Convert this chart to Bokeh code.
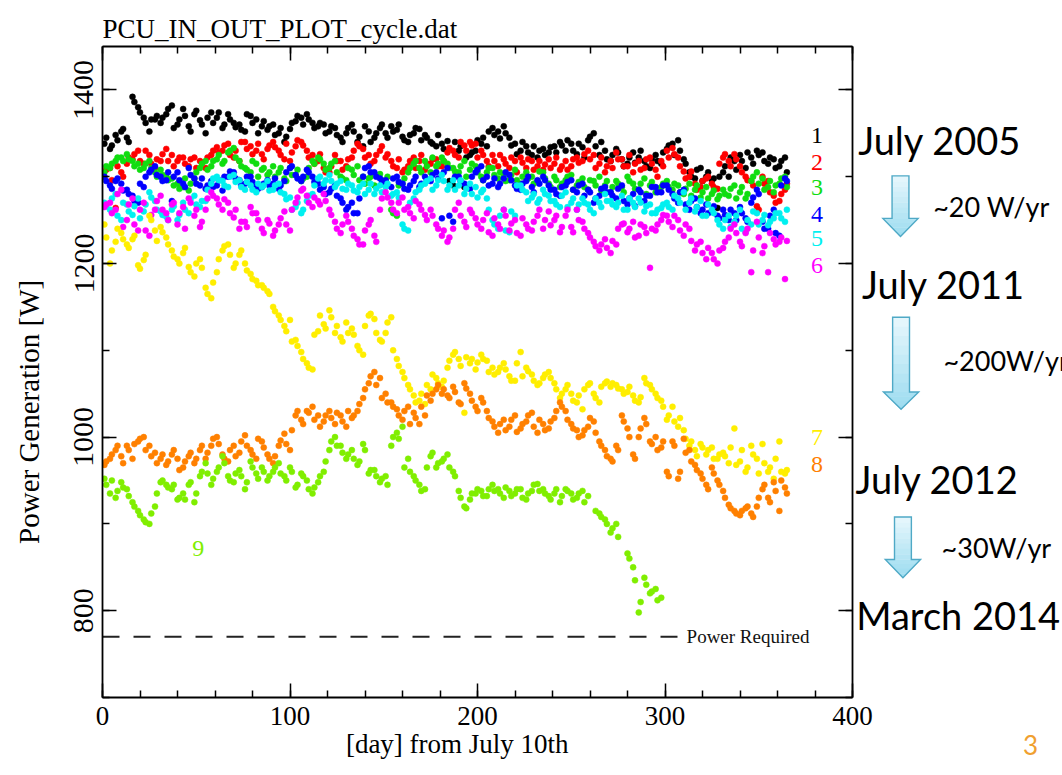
from bokeh.plotting import figure
from bokeh.models import Range1d, LinearAxis, SingleIntervalTicker, FixedTicker, Label, ColumnDataSource
from bokeh.layouts import row
from bokeh.core.properties import value
from bokeh.embed import file_html
from bokeh.resources import INLINE

# ---------------- data ----------------
day = [1, 4, 7, 10, 13, 16, 19, 22, 25, 28,
       31, 34, 37, 40, 43, 46, 49, 52, 55, 58,
       61, 64, 67, 70, 73, 76, 79, 82, 85, 88,
       91, 94, 97, 100, 103, 106, 109, 112, 115, 118,
       121, 124, 127, 130, 133, 136, 139, 142, 145, 148,
       151, 154, 157, 160, 163, 166, 169, 172, 175, 178,
       181, 184, 187, 190, 193, 196, 199, 202, 205, 208,
       211, 214, 217, 220, 223, 226, 229, 232, 235, 238,
       241, 244, 247, 250, 253, 256, 259, 262, 265, 268,
       271, 274, 277, 280, 283, 286, 289, 292, 295, 298,
       301, 304, 307, 310, 313, 316, 319, 322, 325, 328,
       331, 334, 337, 340, 343, 346, 349, 352, 355, 358,
       361, 364]

day_b = [2, 5, 8, 11, 14, 17, 20, 23, 26, 29,
         32, 35, 38, 41, 44, 47, 50, 53, 56, 59,
         62, 65, 68, 71, 74, 77, 80, 83, 86, 89,
         92, 95, 98, 101, 104, 107, 110, 113, 116, 119,
         122, 125, 128, 131, 134, 137, 140, 143, 146, 149,
         152, 155, 158, 161, 164, 167, 170, 173, 176, 179,
         182, 185, 188, 191, 194, 197, 200, 203, 206, 209,
         212, 215, 218, 221, 224, 227, 230, 233, 236, 239,
         242, 245, 248, 251, 254, 257, 260, 263, 266, 269,
         272, 275, 278, 281, 284, 287, 290, 293, 296, 299,
         302, 305, 308, 311, 314, 317, 320, 323, 326, 329,
         332, 335, 338, 341, 344, 347, 350, 353, 356, 359,
         362, 365]

s1 = [1338, 1332, 1348, 1352, 1345, 1392, 1380, 1368, 1352, 1366,
      1362, 1372, 1382, 1360, 1378, 1358, 1372, 1365, 1350, 1374,
      1368, 1356, 1372, 1362, 1360, 1352, 1370, 1366, 1358, 1354,
      1360, 1350, 1340, 1355, 1364, 1368, 1372, 1362, 1358, 1360,
      1352, 1356, 1345, 1350, 1360, 1340, 1335, 1352, 1345, 1356,
      1350, 1358, 1354, 1346, 1340, 1350, 1355, 1348, 1340, 1335,
      1338, 1341, 1290, 1330, 1288, 1325, 1330, 1338, 1335, 1356,
      1352, 1358, 1345, 1338, 1330, 1335, 1325, 1322, 1332, 1328,
      1335, 1340, 1330, 1338, 1326, 1334, 1342, 1350, 1325, 1330,
      1318, 1332, 1320, 1315, 1328, 1322, 1318, 1310, 1325, 1315,
      1332, 1338, 1342, 1320, 1305, 1298, 1310, 1300, 1296, 1264,
      1305, 1300, 1318, 1325, 1310, 1322, 1330, 1328, 1315, 1320,
      1312, 1322]
s1_b = [1345, 1336, 1342, 1355, 1340, 1386, 1374, 1362, 1366, 1370,
        1368, 1378, 1356, 1366, 1370, 1352, 1376, 1360, 1368, 1362,
        1374, 1360, 1366, 1357, 1354, 1372, 1362, 1350, 1364, 1358,
        1348, 1356, 1346, 1362, 1370, 1360, 1366, 1356, 1362, 1350,
        1358, 1348, 1340, 1356, 1352, 1346, 1358, 1340, 1350, 1360,
        1345, 1352, 1360, 1342, 1348, 1356, 1342, 1345, 1338, 1348,
        1332, 1295, 1340, 1335, 1322, 1328, 1342, 1345, 1352, 1348,
        1344, 1350, 1336, 1326, 1340, 1328, 1335, 1330, 1325, 1334,
        1328, 1336, 1342, 1330, 1338, 1322, 1346, 1335, 1340, 1320,
        1325, 1328, 1312, 1322, 1316, 1330, 1312, 1320, 1318, 1328,
        1336, 1325, 1330, 1315, 1300, 1308, 1295, 1305, 1298, 1300,
        1312, 1322, 1308, 1318, 1328, 1315, 1325, 1318, 1322, 1310,
        1318, 1305]

s2 = [1300, 1310, 1264, 1305, 1315, 1320, 1330, 1315, 1325, 1310,
      1318, 1332, 1325, 1318, 1322, 1312, 1322, 1318, 1310, 1325,
      1334, 1330, 1338, 1322, 1318, 1340, 1335, 1330, 1326, 1332,
      1340, 1330, 1320, 1318, 1335, 1340, 1330, 1325, 1318, 1310,
      1305, 1325, 1318, 1312, 1322, 1338, 1332, 1325, 1318, 1330,
      1322, 1318, 1310, 1305, 1312, 1322, 1318, 1308, 1315, 1320,
      1312, 1328, 1330, 1322, 1336, 1340, 1338, 1330, 1318, 1325,
      1312, 1320, 1310, 1318, 1322, 1310, 1318, 1312, 1308, 1320,
      1315, 1308, 1318, 1312, 1322, 1318, 1330, 1325, 1315, 1305,
      1318, 1328, 1320, 1312, 1305, 1318, 1310, 1322, 1308, 1318,
      1330, 1333, 1322, 1306, 1300, 1292, 1288, 1298, 1292, 1286,
      1322, 1318, 1326, 1312, 1300, 1295, 1266, 1300, 1295, 1278,
      1272, 1285]
s2_b = [1308, 1296, 1312, 1300, 1322, 1326, 1318, 1330, 1315, 1320,
        1326, 1318, 1312, 1322, 1315, 1320, 1310, 1316, 1322, 1330,
        1328, 1336, 1325, 1330, 1340, 1332, 1326, 1338, 1320, 1336,
        1334, 1325, 1338, 1328, 1342, 1336, 1322, 1315, 1326, 1305,
        1312, 1318, 1308, 1320, 1330, 1335, 1322, 1315, 1325, 1335,
        1326, 1312, 1320, 1308, 1318, 1310, 1325, 1315, 1320, 1312,
        1318, 1333, 1325, 1340, 1330, 1336, 1322, 1325, 1312, 1318,
        1325, 1315, 1322, 1305, 1316, 1320, 1308, 1318, 1314, 1310,
        1322, 1312, 1308, 1320, 1316, 1326, 1320, 1310, 1322, 1312,
        1310, 1320, 1312, 1325, 1315, 1308, 1320, 1315, 1300, 1312,
        1322, 1326, 1312, 1298, 1306, 1285, 1295, 1300, 1288, 1315,
        1326, 1312, 1320, 1305, 1296, 1290, 1262, 1292, 1282, 1270,
        1280, 1292]

s3 = [1305, 1310, 1318, 1322, 1326, 1318, 1315, 1310, 1318, 1305,
      1308, 1300, 1298, 1292, 1288, 1284, 1298, 1310, 1318, 1312,
      1320, 1315, 1328, 1333, 1318, 1310, 1305, 1315, 1308, 1302,
      1312, 1305, 1298, 1310, 1302, 1295, 1300, 1318, 1322, 1315,
      1310, 1318, 1300, 1296, 1308, 1312, 1300, 1298, 1290, 1303,
      1295, 1262, 1255, 1292, 1305, 1315, 1310, 1318, 1305, 1312,
      1322, 1315, 1310, 1305, 1318, 1308, 1312, 1300, 1305, 1310,
      1298, 1302, 1296, 1308, 1292, 1305, 1300, 1295, 1305, 1292,
      1300, 1288, 1296, 1302, 1290, 1298, 1285, 1295, 1300, 1290,
      1282, 1295, 1288, 1300, 1292, 1285, 1298, 1290, 1282, 1288,
      1295, 1285, 1290, 1280, 1292, 1285, 1276, 1288, 1280, 1274,
      1285, 1278, 1290, 1282, 1275, 1295, 1305, 1298, 1288, 1282,
      1292, 1300]
s3_b = [1312, 1315, 1322, 1318, 1320, 1312, 1308, 1315, 1310, 1300,
        1302, 1296, 1290, 1286, 1298, 1292, 1305, 1315, 1308, 1318,
        1325, 1318, 1330, 1322, 1312, 1308, 1318, 1300, 1310, 1305,
        1300, 1310, 1295, 1302, 1308, 1298, 1310, 1315, 1320, 1308,
        1315, 1305, 1298, 1310, 1302, 1296, 1292, 1300, 1288, 1296,
        1300, 1258, 1290, 1298, 1310, 1318, 1305, 1312, 1322, 1315,
        1318, 1310, 1306, 1312, 1300, 1315, 1305, 1296, 1310, 1302,
        1305, 1295, 1302, 1296, 1300, 1298, 1292, 1306, 1298, 1288,
        1296, 1292, 1300, 1285, 1294, 1288, 1296, 1290, 1284, 1295,
        1288, 1292, 1282, 1295, 1286, 1292, 1280, 1294, 1286, 1292,
        1288, 1292, 1282, 1286, 1278, 1290, 1282, 1275, 1284, 1278,
        1280, 1286, 1275, 1288, 1280, 1300, 1292, 1285, 1295, 1290,
        1298, 1288]

s4 = [1300, 1290, 1295, 1292, 1285, 1278, 1270, 1288, 1305, 1312,
      1300, 1296, 1272, 1305, 1292, 1310, 1298, 1290, 1286, 1295,
      1290, 1284, 1300, 1305, 1296, 1292, 1300, 1290, 1288, 1296,
      1292, 1286, 1295, 1310, 1302, 1295, 1308, 1300, 1292, 1288,
      1282, 1290, 1275, 1262, 1270, 1258, 1300, 1312, 1305, 1298,
      1296, 1288, 1300, 1292, 1285, 1295, 1288, 1300, 1295, 1305,
      1252, 1310, 1248, 1300, 1292, 1286, 1305, 1312, 1300, 1292,
      1288, 1298, 1302, 1290, 1285, 1295, 1288, 1296, 1300, 1290,
      1285, 1278, 1290, 1296, 1282, 1292, 1285, 1270, 1278, 1288,
      1282, 1275, 1290, 1268, 1280, 1285, 1272, 1278, 1288, 1282,
      1290, 1280, 1270, 1285, 1262, 1275, 1258, 1268, 1260, 1255,
      1262, 1250, 1258, 1265, 1252, 1270, 1285, 1248, 1240, 1262,
      1232, 1298]
s4_b = [1295, 1286, 1298, 1284, 1280, 1272, 1292, 1300, 1308, 1302,
        1295, 1305, 1300, 1296, 1288, 1302, 1292, 1298, 1290, 1288,
        1296, 1300, 1306, 1298, 1290, 1300, 1294, 1286, 1292, 1290,
        1298, 1290, 1305, 1312, 1298, 1300, 1305, 1294, 1285, 1280,
        1286, 1278, 1270, 1265, 1258, 1275, 1310, 1305, 1300, 1292,
        1290, 1298, 1294, 1286, 1290, 1300, 1292, 1296, 1302, 1298,
        1305, 1255, 1300, 1295, 1288, 1300, 1308, 1296, 1290, 1298,
        1292, 1305, 1296, 1286, 1292, 1300, 1282, 1292, 1296, 1285,
        1280, 1288, 1294, 1285, 1290, 1278, 1282, 1275, 1286, 1282,
        1278, 1286, 1272, 1275, 1266, 1282, 1278, 1288, 1282, 1290,
        1285, 1275, 1282, 1268, 1272, 1265, 1262, 1258, 1266, 1252,
        1256, 1262, 1250, 1258, 1248, 1276, 1280, 1240, 1255, 1235,
        1290, 1295]

s5 = [1270, 1262, 1280, 1250, 1268, 1256, 1275, 1260, 1282, 1272,
      1260, 1254, 1262, 1250, 1270, 1258, 1278, 1265, 1272, 1292,
      1300, 1295, 1288, 1302, 1296, 1285, 1290, 1282, 1288, 1295,
      1285, 1292, 1280, 1276, 1265, 1258, 1272, 1280, 1298, 1292,
      1302, 1288, 1295, 1285, 1290, 1282, 1292, 1285, 1280, 1290,
      1288, 1278, 1282, 1245, 1238, 1275, 1285, 1292, 1298, 1290,
      1302, 1285, 1296, 1290, 1280, 1292, 1288, 1282, 1275, 1250,
      1240, 1262, 1236, 1255, 1290, 1282, 1276, 1270, 1285, 1278,
      1272, 1265, 1282, 1270, 1262, 1275, 1268, 1258, 1270, 1280,
      1272, 1265, 1278, 1262, 1270, 1275, 1260, 1268, 1258, 1264,
      1270, 1262, 1275, 1282, 1270, 1260, 1272, 1255, 1262, 1250,
      1240, 1255, 1248, 1262, 1236, 1245, 1258, 1250, 1244, 1252,
      1258, 1248]
s5_b = [1266, 1275, 1255, 1270, 1260, 1266, 1252, 1268, 1276, 1262,
        1256, 1250, 1266, 1256, 1262, 1274, 1268, 1272, 1285, 1298,
        1296, 1290, 1300, 1294, 1288, 1294, 1285, 1292, 1290, 1284,
        1290, 1282, 1274, 1262, 1270, 1262, 1278, 1290, 1300, 1296,
        1295, 1292, 1286, 1292, 1284, 1288, 1280, 1292, 1286, 1282,
        1292, 1280, 1276, 1240, 1270, 1282, 1290, 1295, 1285, 1296,
        1295, 1290, 1285, 1296, 1286, 1280, 1276, 1285, 1262, 1245,
        1255, 1238, 1260, 1290, 1285, 1272, 1280, 1274, 1280, 1272,
        1268, 1278, 1265, 1275, 1268, 1270, 1262, 1275, 1265, 1272,
        1268, 1270, 1262, 1275, 1265, 1270, 1266, 1258, 1262, 1268,
        1265, 1278, 1270, 1262, 1275, 1265, 1255, 1268, 1258, 1245,
        1250, 1242, 1255, 1240, 1250, 1260, 1245, 1256, 1248, 1258,
        1252, 1262]

s6 = [1265, 1270, 1262, 1285, 1250, 1275, 1238, 1270, 1232, 1262,
      1278, 1258, 1268, 1245, 1265, 1275, 1255, 1242, 1262, 1282,
      1275, 1262, 1270, 1253, 1240, 1248, 1265, 1258, 1240, 1250,
      1232, 1245, 1260, 1238, 1270, 1284, 1278, 1265, 1272, 1280,
      1262, 1248, 1235, 1255, 1240, 1228, 1222, 1245, 1232, 1262,
      1282, 1270, 1258, 1276, 1265, 1252, 1268, 1256, 1262, 1245,
      1232, 1225, 1240, 1270, 1248, 1262, 1252, 1240, 1258, 1232,
      1245, 1262, 1238, 1250, 1232, 1245, 1238, 1255, 1240, 1260,
      1250, 1236, 1255, 1242, 1262, 1248, 1235, 1225, 1215, 1228,
      1212, 1222, 1245, 1236, 1248, 1232, 1242, 1195, 1238, 1250,
      1255, 1242, 1250, 1232, 1240, 1215, 1225, 1205, 1212, 1200,
      1218, 1230, 1245, 1225, 1235, 1190, 1248, 1212, 1190, 1228,
      1225, 1182]
s6_b = [1268, 1258, 1280, 1242, 1268, 1245, 1262, 1238, 1256, 1272,
        1262, 1250, 1270, 1258, 1240, 1270, 1262, 1248, 1275, 1278,
        1268, 1274, 1258, 1262, 1248, 1242, 1258, 1250, 1235, 1246,
        1238, 1252, 1245, 1262, 1276, 1286, 1270, 1276, 1268, 1272,
        1256, 1240, 1245, 1248, 1232, 1222, 1238, 1250, 1225, 1275,
        1276, 1262, 1270, 1262, 1258, 1272, 1262, 1250, 1255, 1240,
        1238, 1230, 1262, 1255, 1242, 1258, 1245, 1250, 1236, 1252,
        1240, 1255, 1246, 1235, 1252, 1240, 1248, 1262, 1250, 1244,
        1255, 1242, 1262, 1236, 1250, 1240, 1230, 1220, 1222, 1218,
        1226, 1240, 1246, 1240, 1230, 1245, 1235, 1240, 1245, 1256,
        1248, 1255, 1238, 1245, 1226, 1222, 1212, 1218, 1205, 1215,
        1225, 1240, 1235, 1220, 1240, 1215, 1230, 1220, 1235, 1222,
        1230, 1226]

s7 = [1245, 1200, 1225, 1235, 1222, 1228, 1198, 1204, 1255, 1238,
      1242, 1230, 1215, 1205, 1212, 1196, 1185, 1205, 1172, 1160,
      1190, 1215, 1222, 1195, 1210, 1200, 1188, 1180, 1175, 1168,
      1150, 1140, 1128, 1135, 1112, 1098, 1085, 1078, 1122, 1130,
      1146, 1120, 1115, 1132, 1125, 1105, 1095, 1140, 1136, 1112,
      1120, 1138, 1090, 1075, 1060, 1048, 1042, 1038, 1055, 1068,
      1058, 1080, 1095, 1090, 1028, 1085, 1078, 1095, 1088, 1080,
      1075, 1085, 1070, 1065, 1098, 1080, 1072, 1060, 1068, 1075,
      1062, 1045, 1055, 1050, 1040, 1032, 1060, 1050, 1040, 1062,
      1058, 1060, 1055, 1052, 1048, 1040, 1068, 1060, 1050, 1042,
      1020, 1035, 1012, 1008, 990, 985, 992, 980, 988, 975,
      982, 970, 1010, 972, 960, 990, 975, 992, 960, 952,
      995, 958]
s7_b = [1230, 1215, 1240, 1228, 1218, 1232, 1194, 1210, 1250, 1226,
        1236, 1222, 1208, 1200, 1218, 1190, 1200, 1195, 1165, 1178,
        1205, 1220, 1210, 1200, 1215, 1192, 1182, 1175, 1172, 1165,
        1145, 1135, 1122, 1110, 1105, 1090, 1080, 1118, 1140, 1125,
        1138, 1128, 1110, 1120, 1118, 1100, 1128, 1142, 1120, 1110,
        1132, 1100, 1082, 1068, 1055, 1040, 1050, 1060, 1072, 1062,
        1065, 1088, 1098, 1082, 1092, 1090, 1086, 1090, 1075, 1072,
        1080, 1078, 1065, 1085, 1070, 1076, 1065, 1062, 1072, 1068,
        1055, 1050, 1060, 1042, 1048, 1055, 1062, 1045, 1058, 1064,
        1062, 1056, 1050, 1058, 1042, 1046, 1062, 1055, 1045, 1035,
        1025, 1018, 1022, 998, 995, 978, 988, 985, 975, 980,
        978, 988, 968, 985, 965, 980, 958, 970, 965, 975,
        960, 962]

s8 = [968, 975, 985, 978, 990, 975, 995, 1000, 990, 982,
      975, 968, 980, 975, 965, 978, 970, 985, 975, 990,
      1000, 980, 972, 990, 982, 1002, 985, 975, 995, 980,
      970, 990, 1004, 985, 1025, 1020, 1030, 1035, 1025, 1018,
      1030, 1015, 1025, 1012, 1022, 1030, 1045, 1062, 1075, 1068,
      1050, 1040, 1032, 1020, 1035, 1028, 1015, 1025, 1042, 1055,
      1050, 1048, 1058, 1040, 1062, 1050, 1035, 1045, 1030, 1018,
      1005, 1020, 1012, 1025, 1010, 1018, 1028, 1005, 1015, 1010,
      1022, 1040, 1030, 1015, 1008, 1002, 1012, 1018, 995, 985,
      975, 990, 1025, 1010, 980, 1000, 1022, 995, 1000, 988,
      960, 995, 952, 998, 985, 968, 958, 945, 965, 950,
      938, 922, 915, 910, 918, 912, 920, 940, 930, 948,
      915, 942]
s8_b = [972, 980, 990, 970, 985, 992, 998, 985, 978, 970,
        980, 972, 985, 962, 972, 982, 975, 990, 982, 998,
        992, 975, 985, 978, 995, 990, 980, 998, 988, 975,
        978, 996, 992, 1008, 1030, 1015, 1028, 1020, 1012, 1025,
        1022, 1028, 1018, 1030, 1025, 1038, 1055, 1070, 1060, 1045,
        1040, 1035, 1025, 1030, 1015, 1022, 1035, 1048, 1050, 1060,
        1055, 1045, 1052, 1038, 1056, 1042, 1030, 1040, 1022, 1012,
        1015, 1008, 1020, 1006, 1015, 1025, 1012, 1020, 1008, 1018,
        1030, 1035, 1020, 1010, 1000, 1008, 1022, 1005, 990, 978,
        972, 985, 1018, 1000, 975, 1010, 1015, 992, 985, 995,
        955, 990, 960, 982, 972, 962, 952, 940, 958, 945,
        930, 918, 912, 915, 920, 908, 930, 945, 925, 938,
        950, 935]

s9 = [952, 935, 930, 948, 940, 925, 915, 905, 900, 920,
      948, 945, 940, 928, 935, 945, 925, 955, 970, 945,
      960, 978, 955, 948, 962, 940, 972, 958, 965, 950,
      960, 970, 955, 965, 942, 958, 950, 935, 948, 960,
      985, 1000, 990, 975, 985, 968, 992, 958, 962, 948,
      955, 990, 1005, 1012, 975, 955, 945, 940, 978, 965,
      972, 980, 960, 938, 920, 928, 935, 938, 932, 945,
      940, 930, 938, 935, 940, 928, 938, 946, 940, 932,
      935, 925, 940, 935, 930, 938, 932, None, 912, 905,
      890, 900, None, 866, 850, 798, 838, 820, 825, 815,
      None, None, None, None, None, None, None, None, None, None,
      None, None, None, None, None, None, None, None, None, None,
      None, None]
s9_b = [945, 950, 938, 942, 932, 920, 910, 902, 912, 935,
        950, 942, 945, 930, 928, 948, 935, 960, 958, 952,
        965, 970, 950, 958, 955, 948, 965, 952, 960, 955,
        965, 958, 950, 960, 945, 955, 940, 942, 955, 972,
        995, 990, 982, 980, 975, 972, 985, 962, 955, 952,
        945, 1000, 998, 965, 960, 950, 938, 965, 982, 970,
        975, 965, 955, 930, 918, 935, 940, 932, 940, 938,
        935, 942, 932, 940, 930, 935, 945, 938, 935, 928,
        940, 932, 938, 928, 935, 925, None, 915, 908, 900,
        895, 885, None, 860, 835, 810, 830, 822, 812, None,
        None, None, None, None, None, None, None, None, None, None,
        None, None, None, None, None, None, None, None, None, None,
        None, None]

series_names = ["1", "2", "3", "4", "5", "6", "7", "8", "9"]
series_values = [s1, s2, s3, s4, s5, s6, s7, s8, s9]
series_values_b = [s1_b, s2_b, s3_b, s4_b, s5_b, s6_b, s7_b, s8_b, s9_b]
series_colors = ["#000000", "#ff0000", "#10dd10", "#0000ff", "#00f0f0",
                 "#ff00ff", "#ffee00", "#ff8000", "#80ee00"]
series_label_x = [381, 381, 381, 381, 381, 381, 381, 381, 51]
series_label_y = [1347, 1316, 1288, 1257, 1229, 1198, 999, 968, 872]

power_required = 770
power_required_days = [0, 307]

title_text = "PCU_IN_OUT_PLOT_cycle.dat"
x_label = "[day] from July 10th"
y_label = "Power Generation [W]"

# notes to the right of the chart: (day, W, text)
notes_big = [(403, 1342, "July 2005"), (405, 1176, "July 2011"),
             (401.6, 952, "July 2012"), (402, 795, "March 2014")]
notes_small = [(443, 1266, "~20 W/yr"), (448.5, 1088, "~200W/yr"), (447.5, 873, "~30W/yr")]
# arrows: centre day, top, head start, tip (W)
arrows = [(425.6, 1301, 1252, 1231), (425.9, 1138, 1052, 1032), (426.9, 908, 859, 838)]
page_number = "3"
page_number_day = 495

# ---------------- layout constants (pixels) ----------------
W, H = 1062, 775
FL, FR, FT, FB = 102, 852, 46, 697       # frame edges
RIGHT_PAD = 32
MAIN_W = FR + RIGHT_PAD
SIDE_START = FR + 2
X0, X1, Y0, Y1 = 0, 400, 700, 1450
px_per_day = (FR - FL) / (X1 - X0)

SERIF = "Liberation Serif"

p = figure(width=MAIN_W, height=H, output_backend="svg", toolbar_location=None,
           x_range=Range1d(X0, X1), y_range=Range1d(Y0, Y1),
           x_axis_location=None, y_axis_location=None,
           min_border_left=FL, min_border_right=MAIN_W - FR,
           min_border_top=FT, min_border_bottom=H - FB)
p.outline_line_color = None
p.xgrid.visible = False
p.ygrid.visible = False
p.title.text = title_text
p.title.text_font = SERIF
p.title.text_font_size = "27px"
p.title.text_font_style = "normal"
p.title.text_color = "black"
p.title.align = "left"
p.title.standoff = 6


def styled_axis(ticker, labels):
    ax = LinearAxis(ticker=ticker)
    ax.axis_line_color = "black"
    ax.axis_line_width = 1.8
    ax.major_tick_in = 14
    ax.major_tick_out = 0
    ax.minor_tick_in = 7
    ax.minor_tick_out = 0
    ax.major_tick_line_color = "black"
    ax.minor_tick_line_color = "black"
    ax.major_tick_line_width = 1.5
    ax.minor_tick_line_width = 1.5
    ax.major_label_text_font = SERIF
    ax.major_label_text_color = "black"
    ax.axis_label_text_font = SERIF
    ax.axis_label_text_font_style = "normal"
    ax.axis_label_text_color = "black"
    if not labels:
        ax.major_label_text_color = None
        ax.major_label_text_font_size = "1px"
        ax.major_label_standoff = 0
    return ax


NB = "\u00a0"
xb = styled_axis(SingleIntervalTicker(interval=100, num_minor_ticks=5), True)
xb.major_label_text_font_size = "27px"
xb.major_label_standoff = 9
xb.axis_label = x_label + NB * 6
xb.axis_label_text_font_size = "27px"
xb.axis_label_standoff = 1
p.add_layout(xb, "below")

xt = styled_axis(SingleIntervalTicker(interval=100, num_minor_ticks=5), False)
p.add_layout(xt, "above")

yl = styled_axis(SingleIntervalTicker(interval=200, num_minor_ticks=2), True)
yl.major_label_text_font_size = "30px"
yl.major_label_orientation = "vertical"
yl.major_label_standoff = 9
yl.axis_label = y_label + NB * 11
yl.axis_label_text_font_size = "29px"
yl.axis_label_standoff = 27
p.add_layout(yl, "left")

yr = styled_axis(SingleIntervalTicker(interval=200, num_minor_ticks=2), False)
p.add_layout(yr, "right")

# data points
for name, va, vb, col in zip(series_names, series_values, series_values_b, series_colors):
    xs = [d for d, v in zip(day, va) if v is not None] + [d for d, v in zip(day_b, vb) if v is not None]
    ys = [v for v in va if v is not None] + [v for v in vb if v is not None]
    src = ColumnDataSource(dict(x=xs, y=ys))
    p.scatter("x", "y", source=src, size=6, fill_color=col, line_color=col, line_width=0.5)

# power required line
p.line(power_required_days, [power_required, power_required], line_color="#222222",
       line_width=2, line_dash="17 14")
p.add_layout(Label(x=311.5, y=power_required, text="Power Required", text_font=SERIF,
                   text_font_size="19px", text_color="#111111", text_baseline="middle"))

# series number labels
for name, lx, ly, col in zip(series_names, series_label_x, series_label_y, series_colors):
    p.add_layout(Label(x=lx, y=ly, text=name, text_font=SERIF, text_font_size="24px",
                       text_color=col, text_align="center", text_baseline="middle"))

# ---------------- side panel with notes (frame aligned with the main one) ----------------
side_x0 = X0 + (SIDE_START - FL) / px_per_day
side_x1 = X0 + (W - FL) / px_per_day
side = figure(width=W - SIDE_START, height=H, output_backend="svg", toolbar_location=None,
              x_range=Range1d(side_x0, side_x1), y_range=Range1d(Y0, Y1),
              x_axis_location=None, y_axis_location=None,
              min_border_left=0, min_border_right=0, min_border_top=FT, min_border_bottom=H - FB)
side.outline_line_color = None
side.xgrid.visible = False
side.ygrid.visible = False
side.background_fill_color = None
side.border_fill_color = None
side.margin = (0, 0, 0, -(MAIN_W - SIDE_START))

SHAFT_HW = 4.5
HEAD_HW = 9.4
top_rgb = (0xe8, 0xf8, 0xfd)
bot_rgb = (0x9c, 0xdc, 0xf0)


def mix(t):
    return "#%02x%02x%02x" % tuple(int(a + (b - a) * t) for a, b in zip(top_rgb, bot_rgb))


for cx, ytop, yhead, ytip in arrows:
    total = ytop - ytip
    sx, sy, sc = [], [], []
    n_shaft = 8
    for i in range(n_shaft):
        ya = ytop - (ytop - yhead) * i / n_shaft
        yb = ytop - (ytop - yhead) * (i + 1) / n_shaft
        sx.append([cx - SHAFT_HW, cx + SHAFT_HW, cx + SHAFT_HW, cx - SHAFT_HW])
        sy.append([ya, ya, yb - 0.4, yb - 0.4])
        sc.append(mix((ytop - (ya + yb) / 2) / total))
    n_head = 4
    for i in range(n_head):
        ya = yhead - (yhead - ytip) * i / n_head
        yb = yhead - (yhead - ytip) * (i + 1) / n_head
        wa = HEAD_HW * (ya - ytip) / (yhead - ytip)
        wb = HEAD_HW * (yb - ytip) / (yhead - ytip)
        sx.append([cx - wa, cx + wa, cx + wb, cx - wb])
        sy.append([ya, ya, yb - 0.4, yb - 0.4])
        sc.append(mix((ytop - (ya + yb) / 2) / total))
    side.patches(sx, sy, fill_color=sc, line_color=None)
    side.patch([cx - SHAFT_HW, cx + SHAFT_HW, cx + SHAFT_HW, cx + HEAD_HW, cx, cx - HEAD_HW, cx - SHAFT_HW],
               [ytop, ytop, yhead, yhead, ytip, yhead, yhead],
               fill_alpha=0, line_color="#4fa9c6", line_width=1.4, line_join="miter")

side.text([n[0] for n in notes_big], [n[1] for n in notes_big], text=[n[2] for n in notes_big],
          text_font=value("Lato"), text_font_size=value("38px"), text_color="black",
          text_baseline="alphabetic")
side.text([n[0] for n in notes_small], [n[1] for n in notes_small], text=[n[2] for n in notes_small],
          text_font=value("Lato"), text_font_size=value("27px"), text_color="black",
          text_baseline="alphabetic")

# slide page number, shown as the only tick label of an invisible bottom axis of the side panel
pn_axis = LinearAxis(ticker=FixedTicker(ticks=[page_number_day], minor_ticks=[]))
pn_axis.major_label_overrides = {page_number_day: page_number}
pn_axis.axis_line_color = None
pn_axis.major_tick_line_color = None
pn_axis.minor_tick_line_color = None
pn_axis.major_tick_out = 0
pn_axis.major_tick_in = 0
pn_axis.major_label_standoff = 37
pn_axis.major_label_text_font = "Lato"
pn_axis.major_label_text_font_size = "26px"
pn_axis.major_label_text_color = "#f0a030"
side.add_layout(pn_axis, "below")

layout = row(p, side, spacing=0)
open("out.html", "w").write(file_html(layout, INLINE))
